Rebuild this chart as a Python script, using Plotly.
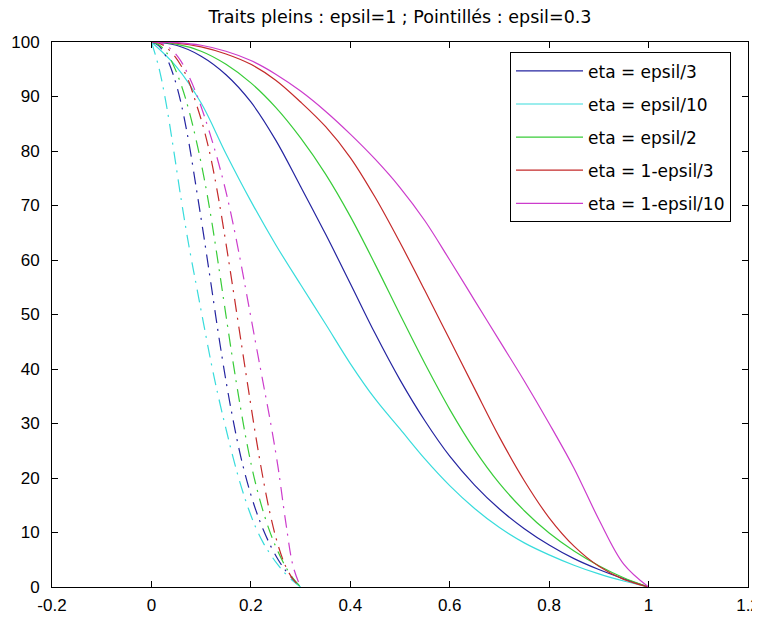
import plotly.graph_objects as go

# ---- data ----
# solid curves (epsil = 1)
x_solid = [0, 0.05, 0.1, 0.15, 0.2, 0.25, 0.3, 0.35, 0.4, 0.45, 0.5,
           0.55, 0.6, 0.65, 0.7, 0.75, 0.8, 0.85, 0.9, 0.95, 1.0]
blue_solid = [100, 99.4, 97.4, 94, 89, 82, 73.5, 64.8, 55.7, 46.5, 38,
              30.5, 24, 18.7, 14.3, 10.7, 7.7, 5.2, 3.2, 1.5, 0]
cyan_solid = [100, 95.5, 88.8, 79.5, 70.8, 62.8, 55.5, 48.3, 41, 34.5, 29,
              23.5, 18.6, 14.4, 10.9, 8.1, 5.9, 4.0, 2.4, 1.1, 0]
green_solid = [100, 99.6, 98.3, 95.9, 92.5, 88, 82.4, 75.8, 68, 59.2, 50,
               41, 32.6, 25.2, 19, 14, 9.9, 6.6, 3.9, 1.7, 0]
red_solid = [100, 99.8, 99.1, 97.8, 95.9, 93, 89, 84.5, 78.8, 71.5, 63.2,
             54.4, 45.4, 36.4, 27.5, 19.5, 12.7, 7.5, 3.8, 1.4, 0]
magenta_solid = [100, 99.9, 99.4, 98.3, 96.6, 94.1, 91, 87.3, 83.1, 78.5, 73.3,
                 67.2, 60, 52.6, 45.2, 37.8, 30, 21.8, 12.4, 4.2, 0]

# dash-dot curves (epsil = 0.3)
x_dash = [0, 0.015, 0.03, 0.045, 0.06, 0.075, 0.09, 0.105, 0.12, 0.135, 0.15,
          0.165, 0.18, 0.195, 0.21, 0.225, 0.24, 0.255, 0.27, 0.285, 0.3]
blue_dash = [100, 99.3, 97.2, 93.7, 88.6, 81.7, 73.3, 64.6, 55.5, 46.3, 37.8,
             30.3, 23.8, 18.5, 14.1, 10.5, 7.5, 5.0, 3.0, 1.4, 0]
cyan_dash = [100, 95.3, 88.5, 80, 71, 62.8, 55.5, 48.3, 41.2, 34.8, 29,
             23.5, 18.6, 14.4, 10.9, 8.1, 5.9, 4.0, 2.4, 1.1, 0]
green_dash = [100, 99.5, 98.1, 95.6, 92.1, 87.6, 82, 75.5, 67.8, 59, 49.8,
              40.8, 32.5, 25, 18.8, 13.8, 9.7, 6.4, 3.7, 1.6, 0]
red_dash = [100, 99.8, 99, 97.6, 95.6, 92.8, 88.7, 84.2, 78.5, 71.3, 63,
            54.2, 45.2, 36.3, 27.6, 19.7, 12.9, 7.6, 3.8, 1.4, 0]
magenta_dash = [100, 99.9, 99.3, 98.2, 96.4, 93.8, 90.6, 86.8, 82.5, 77.8, 72.5,
                66.3, 59.4, 52, 44.6, 37.3, 30, 21.8, 12, 3.8, 0]

labels = ["eta = epsil/3", "eta = epsil/10", "eta = epsil/2",
          "eta = 1-epsil/3", "eta = 1-epsil/10"]
colors = ["#2424a0", "#38dcdc", "#38cc38", "#c42a2a", "#cc3ccc"]

x_ticks = [-0.2, 0, 0.2, 0.4, 0.6, 0.8, 1, 1.2]
x_ticklabels = ["-0.2", "0", "0.2", "0.4", "0.6", "0.8", "1", "1.2"]
y_ticks = [0, 10, 20, 30, 40, 50, 60, 70, 80, 90, 100]

title_text = "Traits pleins : epsil=1 ; Pointillés : epsil=0.3"

solids = [blue_solid, cyan_solid, green_solid, red_solid, magenta_solid]
dashes = [blue_dash, cyan_dash, green_dash, red_dash, magenta_dash]

fig = go.Figure()
for i, (ys, lab, col) in enumerate(zip(solids, labels, colors)):
    fig.add_trace(go.Scatter(x=x_solid, y=ys, mode="lines", name=lab,
                             line=dict(color=col, width=1.2, shape="spline", smoothing=1),
                             legendgroup=f"g{i}"))
for i, (ys, col) in enumerate(zip(dashes, colors)):
    fig.add_trace(go.Scatter(x=x_dash, y=ys, mode="lines", showlegend=False,
                             line=dict(color=col, width=1.2, dash="13px,6px,2px,7px",
                                       shape="spline", smoothing=1)))

tick_font = dict(family="Liberation Sans Narrow, Liberation Sans, Arial, sans-serif",
                 size=17, color="black")
title_font = dict(family="DejaVu Sans, sans-serif", size=17.5, color="black")

# the page body adds an 8px offset, so the figure is sized to fit 760x620
fig.update_layout(
    width=752, height=612,
    margin=dict(l=44, r=12, t=34, b=33, autoexpand=False),
    paper_bgcolor="white", plot_bgcolor="white",
    font=title_font,
    title=dict(text=title_text, x=0.5, xanchor="center", xref="paper",
               y=1 - 9 / 612, yref="container", yanchor="middle", font=title_font),
    showlegend=True,
    legend=dict(x=0.9756, xanchor="right", y=0.981, yanchor="top",
                bgcolor="white", bordercolor="black", borderwidth=1,
                font=dict(family="DejaVu Sans, sans-serif", size=17, color="black"),
                tracegroupgap=8, itemwidth=67),
)
fig.update_xaxes(range=[-0.2, 1.2], tickvals=x_ticks, ticktext=x_ticklabels,
                 showgrid=False, zeroline=False, showline=True, linecolor="black",
                 linewidth=1, mirror="ticks", ticks="inside", ticklen=6,
                 tickcolor="black", tickfont=tick_font, automargin=False,
                 ticklabelstandoff=3)
fig.update_yaxes(range=[0, 100], tickvals=y_ticks,
                 showgrid=False, zeroline=False, showline=True, linecolor="black",
                 linewidth=1, mirror="ticks", ticks="inside", ticklen=6,
                 tickcolor="black", tickfont=tick_font, automargin=False,
                 ticklabelstandoff=8)

fig.write_html("out.html")
